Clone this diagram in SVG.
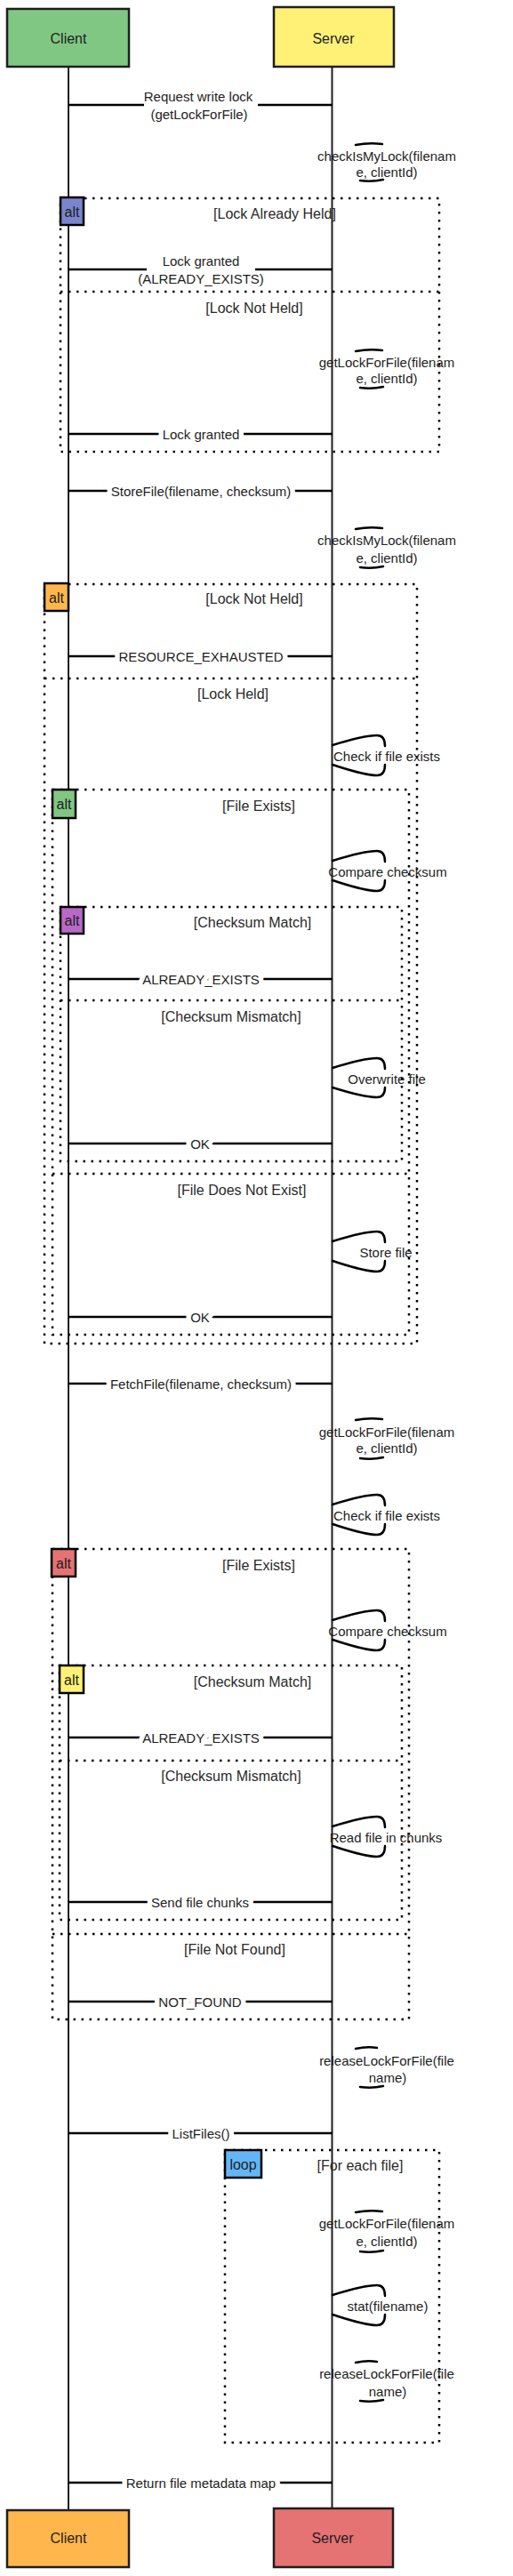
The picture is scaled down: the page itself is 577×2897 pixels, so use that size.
<svg xmlns="http://www.w3.org/2000/svg" width="577" height="2897" viewBox="0 0 577 2897">
<style>
.t{font-family:"Liberation Sans",Arial,sans-serif;fill:#1e1e1e;text-anchor:middle;dominant-baseline:central}
.m{font-size:15px}
.mh{font-size:15px;paint-order:stroke;stroke:#fff;stroke-width:11px;stroke-linejoin:round}
.c{font-size:16px;fill:#2a2a2a}
.a{font-size:16px}
.box{stroke:#1e1e1e;stroke-width:2.5}
.life{stroke:#1e1e1e;stroke-width:2;fill:none}
.msg{stroke:#000;stroke-width:2.5;fill:none}
.frame{fill:none;stroke:#000;stroke-width:2.5;stroke-dasharray:2.5 6.5}
.arc{fill:none;stroke:#000;stroke-width:2.5;stroke-linecap:round}
.tag{stroke:#000;stroke-width:2.5}
</style>
<rect x="0" y="0" width="577" height="2897" fill="#fff"/>

<g id="lifelines">
<line class="life" x1="77" y1="75" x2="77" y2="2823"/>
<line class="life" x1="373.5" y1="75" x2="373.5" y2="2821"/>
</g>

<g id="frames">
<g id="frame-lock-check">
<rect class="frame" x="68" y="223" width="426" height="285"/>
<line class="frame" x1="68" y1="328" x2="494" y2="328"/>
<text class="t c" x="309" y="240">[Lock Already Held]</text>
<text class="t c" x="286" y="346">[Lock Not Held]</text>
</g>
<g id="frame-store-lock">
<rect class="frame" x="50" y="657" width="419" height="854"/>
<line class="frame" x1="50" y1="763" x2="469" y2="763"/>
<text class="t c" x="286" y="673">[Lock Not Held]</text>
<text class="t c" x="262" y="780">[Lock Held]</text>
</g>
<g id="frame-store-exists">
<rect class="frame" x="59" y="888" width="401" height="613"/>
<line class="frame" x1="59" y1="1320" x2="460" y2="1320"/>
<text class="t c" x="291" y="906">[File Exists]</text>
<text class="t c" x="272" y="1338">[File Does Not Exist]</text>
</g>
<g id="frame-store-checksum">
<rect class="frame" x="68" y="1020" width="384" height="286"/>
<line class="frame" x1="68" y1="1125" x2="452" y2="1125"/>
<text class="t c" x="284" y="1037">[Checksum Match]</text>
<text class="t c" x="260" y="1143">[Checksum Mismatch]</text>
</g>
<g id="frame-fetch-exists">
<rect class="frame" x="59" y="1742" width="401" height="529"/>
<line class="frame" x1="59" y1="2175" x2="460" y2="2175"/>
<text class="t c" x="291" y="1760">[File Exists]</text>
<text class="t c" x="264" y="2192">[File Not Found]</text>
</g>
<g id="frame-fetch-checksum">
<rect class="frame" x="67" y="1873" width="385" height="286"/>
<line class="frame" x1="67" y1="1980" x2="452" y2="1980"/>
<text class="t c" x="284" y="1891">[Checksum Match]</text>
<text class="t c" x="260" y="1997">[Checksum Mismatch]</text>
</g>
<g id="frame-loop">
<rect class="frame" x="253" y="2418" width="241" height="329"/>
<text class="t c" x="405" y="2435">[For each file]</text>
</g>
</g>

<g id="connectors">
<line class="msg" x1="77" y1="118" x2="162" y2="118"/>
<line class="msg" x1="290" y1="118" x2="374" y2="118"/>
<text class="t m" x="223" y="108">Request write lock</text>
<text class="t m" x="224" y="128">(getLockForFile)</text>

<line class="msg" x1="77" y1="303" x2="165" y2="303"/>
<line class="msg" x1="287" y1="303" x2="374" y2="303"/>
<text class="t m" x="226" y="293">Lock granted</text>
<text class="t m" x="226" y="313">(ALREADY_EXISTS)</text>

<line class="msg" x1="77" y1="488" x2="374" y2="488"/>
<text class="t mh" x="226" y="488">Lock granted</text>
<line class="msg" x1="77" y1="552" x2="374" y2="552"/>
<text class="t mh" x="226" y="552">StoreFile(filename, checksum)</text>
<line class="msg" x1="77" y1="738" x2="374" y2="738"/>
<text class="t mh" x="226" y="738">RESOURCE_EXHAUSTED</text>
<line class="msg" x1="77" y1="1101" x2="374" y2="1101"/>
<text class="t mh" x="226" y="1101">ALREADY_EXISTS</text>
<line class="msg" x1="77" y1="1286" x2="374" y2="1286"/>
<text class="t mh" x="225" y="1286">OK</text>
<line class="msg" x1="77" y1="1481" x2="374" y2="1481"/>
<text class="t mh" x="225" y="1481">OK</text>
<line class="msg" x1="77" y1="1556" x2="374" y2="1556"/>
<text class="t mh" x="226" y="1556">FetchFile(filename, checksum)</text>
<line class="msg" x1="77" y1="1954" x2="374" y2="1954"/>
<text class="t mh" x="226" y="1954">ALREADY_EXISTS</text>
<line class="msg" x1="77" y1="2139" x2="374" y2="2139"/>
<text class="t mh" x="225" y="2139">Send file chunks</text>
<line class="msg" x1="77" y1="2251" x2="374" y2="2251"/>
<text class="t mh" x="225" y="2251">NOT_FOUND</text>
<line class="msg" x1="77" y1="2399" x2="374" y2="2399"/>
<text class="t mh" x="226" y="2399">ListFiles()</text>
<line class="msg" x1="77" y1="2792" x2="374" y2="2792"/>
<text class="t mh" x="226" y="2792">Return file metadata map</text>

<path class="arc" d="M400,163 Q415,160 430,162 M405,203 Q418,205 431,202"/>
<text class="t m" x="435" y="175">checkIsMyLock(filenam</text>
<text class="t m" x="435" y="193">e, clientId)</text>

<path class="arc" d="M400,395 Q415,392 430,394 M405,436 Q418,438 431,435"/>
<text class="t m" x="435" y="407">getLockForFile(filenam</text>
<text class="t m" x="435" y="425">e, clientId)</text>

<path class="arc" d="M400,595 Q415,592 430,594 M405,638 Q418,640 431,637"/>
<text class="t m" x="435" y="607">checkIsMyLock(filenam</text>
<text class="t m" x="435" y="627">e, clientId)</text>

<path class="arc" d="M400,1597 Q415,1594 430,1596 M405,1640 Q418,1642 431,1639"/>
<text class="t m" x="435" y="1610">getLockForFile(filenam</text>
<text class="t m" x="435" y="1628">e, clientId)</text>

<path class="arc" d="M400,2304 Q413,2301 424,2303 M405,2347 Q418,2349 431,2346"/>
<text class="t m" x="435" y="2317">releaseLockForFile(file</text>
<text class="t m" x="436" y="2336">name)</text>

<path class="arc" d="M400,2488 Q415,2485 430,2487 M405,2532 Q418,2534 431,2531"/>
<text class="t m" x="435" y="2500">getLockForFile(filenam</text>
<text class="t m" x="435" y="2520">e, clientId)</text>

<path class="arc" d="M400,2657 Q413,2654 424,2656 M405,2700 Q418,2702 431,2699"/>
<text class="t m" x="435" y="2669">releaseLockForFile(file</text>
<text class="t m" x="436" y="2689">name)</text>

<path class="arc" d="M374,838 C390,833 410,827 424,827 Q433,827 433,839 M433,860 Q433,872 424,872 C410,872 390,865 374,860"/>
<text class="t m" x="435" y="850">Check if file exists</text>
<path class="arc" d="M374,968 C390,963 410,957 424,957 Q433,957 433,969 M433,990 Q433,1002 424,1002 C410,1002 390,995 374,990"/>
<text class="t m" x="436" y="980">Compare checksum</text>
<path class="arc" d="M374,1201 C390,1196 410,1190 424,1190 Q433,1190 433,1202 M433,1223 Q433,1234 424,1234 C410,1234 390,1228 374,1223"/>
<text class="t m" x="435" y="1213">Overwrite file</text>
<path class="arc" d="M374,1396 C390,1391 410,1385 424,1385 Q433,1385 433,1397 M433,1418 Q433,1430 424,1430 C410,1430 390,1423 374,1418"/>
<text class="t m" x="434" y="1408">Store file</text>
<path class="arc" d="M374,1692 C390,1687 410,1681 424,1681 Q433,1681 433,1693 M433,1714 Q433,1726 424,1726 C410,1726 390,1719 374,1714"/>
<text class="t m" x="435" y="1704">Check if file exists</text>
<path class="arc" d="M374,1822 C390,1817 410,1811 424,1811 Q433,1811 433,1823 M433,1844 Q433,1856 424,1856 C410,1856 390,1849 374,1844"/>
<text class="t m" x="436" y="1834">Compare checksum</text>
<path class="arc" d="M374,2054 C390,2049 410,2043 424,2043 Q433,2043 433,2055 M433,2076 Q433,2088 424,2088 C410,2088 390,2081 374,2076"/>
<text class="t m" x="434" y="2066">Read file in chunks</text>
<path class="arc" d="M374,2581 C390,2576 410,2570 424,2570 Q433,2570 433,2582 M433,2603 Q433,2615 424,2615 C410,2615 390,2608 374,2603"/>
<text class="t m" x="436" y="2593">stat(filename)</text>
</g>

<g id="tags">
<g id="tag-alt-1"><rect class="tag" x="68" y="222" width="26" height="31" fill="#7986CB"/><text class="t a" x="81" y="238">alt</text></g>
<g id="tag-alt-2"><rect class="tag" x="50" y="656" width="27" height="31" fill="#FFB74D"/><text class="t a" x="63.5" y="672">alt</text></g>
<g id="tag-alt-3"><rect class="tag" x="59" y="888" width="26" height="32" fill="#81C784"/><text class="t a" x="72" y="904">alt</text></g>
<g id="tag-alt-4"><rect class="tag" x="68" y="1020" width="26" height="30" fill="#BA68C8"/><text class="t a" x="81" y="1035">alt</text></g>
<g id="tag-alt-5"><rect class="tag" x="58" y="1742" width="27" height="31" fill="#E57373"/><text class="t a" x="71.5" y="1758">alt</text></g>
<g id="tag-alt-6"><rect class="tag" x="67" y="1873" width="27" height="31" fill="#FFF176"/><text class="t a" x="80.5" y="1889">alt</text></g>
<g id="tag-loop"><rect class="tag" x="253" y="2418" width="41" height="31" fill="#64B5F6"/><text class="t a" x="273.5" y="2434">loop</text></g>
</g>

<g id="client-top"><rect class="box" x="8" y="10" width="137" height="65" fill="#81C784"/><text class="t a" x="77" y="43">Client</text></g>
<g id="server-top"><rect class="box" x="308" y="8" width="135" height="67" fill="#FFF176"/><text class="t a" x="375" y="43">Server</text></g>
<g id="client-bottom"><rect class="box" x="8" y="2823" width="137" height="64" fill="#FFB74D"/><text class="t a" x="77" y="2854">Client</text></g>
<g id="server-bottom"><rect class="box" x="308" y="2821" width="134" height="66" fill="#E57373"/><text class="t a" x="374" y="2854">Server</text></g>
</svg>
